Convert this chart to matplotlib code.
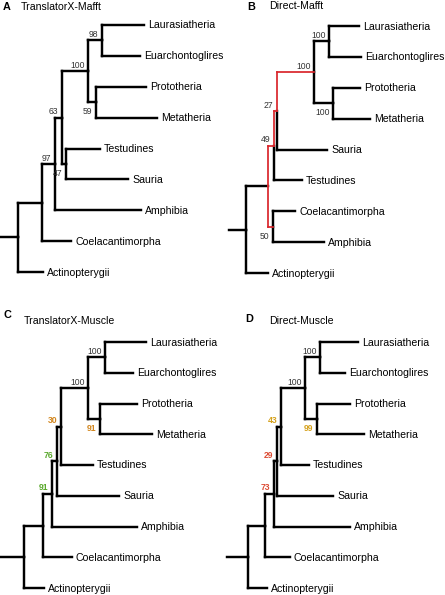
import matplotlib
matplotlib.use("Agg")
import matplotlib.pyplot as plt

plt.rcParams['font.family'] = ['Liberation Sans', 'DejaVu Sans']

W, H, DPI = 445, 595, 100

# ---------------- data ----------------
# Trees in Newick (branch lengths in drawing units, internal labels = support)
A_title = "TranslatorX-Mafft"
A_newick = ("((((((Laurasiatheria:42,Euarchontoglires:38)98:14,"
            "(Prototheria:50,Metatheria:61)59:8)100:26,"
            "(Testudines:34,Sauria:62)47:4)63:7,Amphibia:86)97:13,"
            "Coelacantimorpha:29):24,Actinopterygii:25):18;")
A_support_colors = ["k", "k", "k", "k", "k", "k"]
A_highlight = None

B_title = "Direct-Mafft"
B_newick = ("((((((Laurasiatheria:30,Euarchontoglires:32)100:15,"
            "(Prototheria:27,Metatheria:37)100:19)100:37,Sauria:50)27:3,"
            "Testudines:28)49:6,(Coelacantimorpha:22,Amphibia:51)50:5):22,"
            "Actinopterygii:22):17;")
B_support_colors = ["k", "k", "k", "k", "k", "k"]
B_highlight = (["Laurasiatheria", "Metatheria"], ["Coelacantimorpha", "Amphibia"])

C_title = "TranslatorX-Muscle"
C_newick = ("(((((((Laurasiatheria:41,Euarchontoglires:28)100:17,"
            "(Prototheria:37,Metatheria:52)91:12)100:27,Testudines:32)30:4,"
            "Sauria:62)76:5,Amphibia:85)91:9,Coelacantimorpha:29):19,"
            "Actinopterygii:20):24;")
C_support_colors = ["k", "orange", "k", "orange", "green", "green"]
C_highlight = None

D_title = "Direct-Muscle"
D_newick = ("(((((((Laurasiatheria:38,Euarchontoglires:25)100:15,"
            "(Prototheria:33,Metatheria:47)99:12)100:24,Testudines:28)43:4,"
            "Sauria:56)29:3,Amphibia:76)73:9,Coelacantimorpha:25):17,"
            "Actinopterygii:19):21;")
D_support_colors = ["k", "gold", "k", "gold", "red", "red"]
D_highlight = None

# ---------------- styles / layout ----------------
COLORS = {"k": "#333333", "orange": "#D2861E", "green": "#5AA82C",
          "gold": "#D5A11C", "red": "#DC4B33"}
PATH_RED = "#D9262B"
LW = 1.75
LW_RED = 1.25
TIP_FS = 7.6
SUP_FS = 6.2

# panel placement: (stem start px, first tip px y, tip spacing px)
PANELS = [
    dict(letter="A", title=A_title, nwk=A_newick, cols=A_support_colors, hl=A_highlight,
         ox=0, ty0=25, sp=30.9, lx=3, ly=9.5, tx=21, tyb=9.5),
    dict(letter="B", title=B_title, nwk=B_newick, cols=B_support_colors, hl=B_highlight,
         ox=229, ty0=26, sp=30.9, lx=247, ly=9.5, tx=269, tyb=9.0),
    dict(letter="C", title=C_title, nwk=C_newick, cols=C_support_colors, hl=C_highlight,
         ox=0, ty0=342, sp=30.75, lx=3, ly=318.5, tx=24, tyb=324),
    dict(letter="D", title=D_title, nwk=D_newick, cols=D_support_colors, hl=D_highlight,
         ox=227, ty0=342, sp=30.75, lx=245, ly=322.5, tx=269, tyb=324),
]


def parse_newick(s):
    s = s.strip().rstrip(";")
    pos = 0

    def node():
        nonlocal pos
        n = {"children": [], "name": "", "length": 0.0, "parent": None}
        if s[pos] == "(":
            pos += 1
            while True:
                c = node()
                c["parent"] = n
                n["children"].append(c)
                if s[pos] == ",":
                    pos += 1
                    continue
                pos += 1  # ')'
                break
        st = pos
        while pos < len(s) and s[pos] not in ":,()":
            pos += 1
        n["name"] = s[st:pos]
        if pos < len(s) and s[pos] == ":":
            pos += 1
            st = pos
            while pos < len(s) and s[pos] not in ",()":
                pos += 1
            n["length"] = float(s[st:pos])
        return n

    return node()


def postorder(n):
    for c in n["children"]:
        yield from postorder(c)
    yield n


def layout(root):
    counter = [0]

    def rec(n, px):
        n["x"] = px + n["length"]
        if not n["children"]:
            n["y"] = counter[0]
            counter[0] += 1
        else:
            for c in n["children"]:
                rec(c, n["x"])
            n["y"] = 0.5 * (n["children"][0]["y"] + n["children"][-1]["y"])

    rec(root, 0.0)


def tips_of(n):
    if not n["children"]:
        return {n["name"]}
    out = set()
    for c in n["children"]:
        out |= tips_of(c)
    return out


def mrca(root, names):
    names = set(names)
    for n in postorder(root):
        if names <= tips_of(n):
            return n
    return root


def ancestors(n):
    out = []
    while n is not None:
        out.append(n)
        n = n["parent"]
    return out


fig = plt.figure(figsize=(W / DPI, H / DPI), dpi=DPI)
fig.patch.set_facecolor("white")

for P in PANELS:
    root = parse_newick(P["nwk"])
    layout(root)
    ax = fig.add_axes([0, 0, 1, 1])
    ax.set_xlim(-P["ox"], W - P["ox"])
    ax.set_ylim((H - P["ty0"]) / P["sp"], -P["ty0"] / P["sp"])
    ax.axis("off")
    ax.patch.set_alpha(0)

    # highlighted path between two clades
    red_stems = set()
    red_vert = {}
    if P["hl"]:
        u = mrca(root, P["hl"][0])
        v = mrca(root, P["hl"][1])
        au, av = ancestors(u), ancestors(v)
        ids_v = [id(a) for a in av]
        lca = next(a for a in au if id(a) in ids_v)
        for chain in (au, av):
            for a in chain:
                if a is lca:
                    break
                red_stems.add(id(a))
                par = a["parent"]
                red_vert.setdefault(id(par), []).append((par["y"], a["y"]))

    for n in postorder(root):
        x0 = n["parent"]["x"] if n["parent"] is not None else 0.0
        red = id(n) in red_stems
        ax.plot([x0, n["x"]], [n["y"], n["y"]],
                color=PATH_RED if red else "black",
                lw=LW_RED if red else LW, solid_capstyle="projecting",
                zorder=3 if red else 2)
        if n["children"]:
            reds = red_vert.get(id(n), [])
            for c in n["children"]:
                b = c["y"]
                is_red = any(abs(r[1] - b) < 1e-9 for r in reds)
                ax.plot([n["x"], n["x"]], [n["y"], b],
                        color=PATH_RED if is_red else "black",
                        lw=LW_RED if is_red else LW, solid_capstyle="projecting",
                        zorder=3 if is_red else 2)
        else:
            ax.annotate(n["name"], (n["x"], n["y"]), xytext=(4, -3.5),
                        textcoords="offset pixels", ha="left", va="baseline",
                        fontsize=TIP_FS, color="black")

    labelled = [n for n in postorder(root) if n["children"] and n["name"]]
    for n, ck in zip(labelled, P["cols"]):
        par = n["parent"]
        lower = par is not None and par["children"][-1] is n
        dy = -11.8 if lower else 3.4
        ax.annotate(n["name"], (n["x"], n["y"]), xytext=(-3.5, dy),
                    textcoords="offset pixels", ha="right", va="baseline",
                    fontsize=SUP_FS, color=COLORS[ck],
                    fontweight="normal" if ck == "k" else "bold")

    fig.text(P["lx"] / W, 1 - P["ly"] / H, P["letter"], fontsize=7.8,
             fontweight="bold", ha="left", va="baseline")
    fig.text(P["tx"] / W, 1 - P["tyb"] / H, P["title"], fontsize=7.6,
             ha="left", va="baseline")

fig.savefig("out.png", dpi=DPI, facecolor="white")
